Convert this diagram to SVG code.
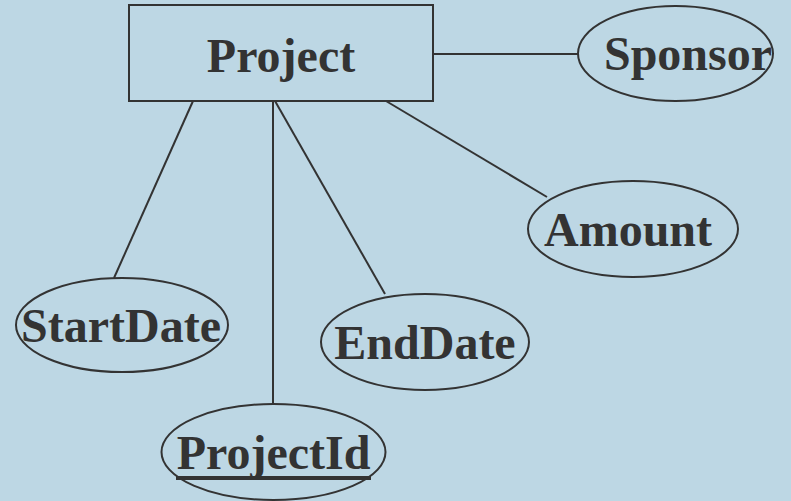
<svg xmlns="http://www.w3.org/2000/svg" width="791" height="501" viewBox="0 0 791 501">
<style>
.bg{fill:#bdd7e4}
.shape{fill:none;stroke:#333;stroke-width:2}
.lbl{font-family:"Liberation Serif","Times New Roman",serif;font-weight:bold;font-size:48px;fill:#333;text-anchor:middle}
.conn line{stroke:#333;stroke-width:2}
</style>
<rect class="bg" x="0" y="0" width="791" height="501"/>
<g id="connectors" class="conn">
<line x1="433" y1="54" x2="578" y2="54"/>
<line x1="386" y1="101" x2="547" y2="197"/>
<line x1="193" y1="101" x2="114" y2="278"/>
<line x1="273" y1="101" x2="273" y2="404"/>
<line x1="275" y1="101" x2="385" y2="294"/>
</g>
<g id="Project">
<rect class="shape" x="129" y="5" width="304" height="96"/>
<text class="lbl" x="281" y="72">Project</text>
</g>
<g id="Sponsor">
<ellipse class="shape" cx="675.5" cy="53.5" rx="97.5" ry="47.5"/>
<text class="lbl" x="688" y="70">Sponsor</text>
</g>
<g id="Amount">
<ellipse class="shape" cx="633" cy="229" rx="105" ry="48"/>
<text class="lbl" x="628" y="246">Amount</text>
</g>
<g id="StartDate">
<ellipse class="shape" cx="122" cy="325" rx="106" ry="47"/>
<text class="lbl" x="121" y="342">StartDate</text>
</g>
<g id="EndDate">
<ellipse class="shape" cx="425" cy="342" rx="104" ry="48"/>
<text class="lbl" x="425" y="359">EndDate</text>
</g>
<g id="ProjectId">
<ellipse class="shape" cx="273.5" cy="452" rx="112" ry="48"/>
<text class="lbl" x="273.5" y="469">ProjectId</text>
<rect x="176" y="476" width="195" height="4" fill="#333"/>
</g>
</svg>
